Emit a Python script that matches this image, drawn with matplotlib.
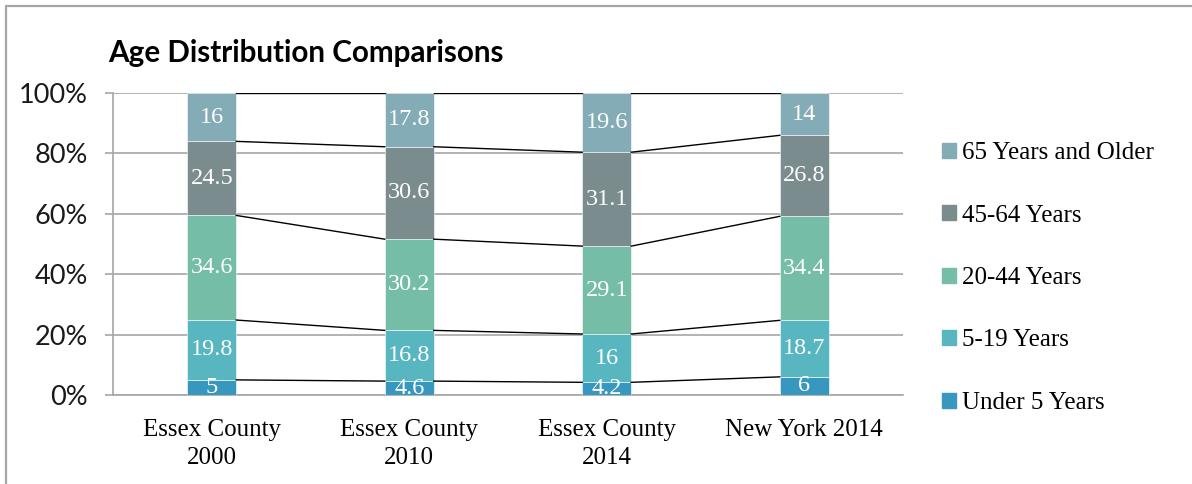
import matplotlib
matplotlib.use("Agg")
import matplotlib.pyplot as plt
from matplotlib.patches import Rectangle, Patch
import numpy as np

categories = ["Essex County\n2000", "Essex County\n2010", "Essex County\n2014", "New York 2014"]
series_names = ["Under 5 Years", "5-19 Years", "20-44 Years", "45-64 Years", "65 Years and Older"]
under5 = [5, 4.6, 4.2, 6]
age5_19 = [19.8, 16.8, 16, 18.7]
age20_44 = [34.6, 30.2, 29.1, 34.4]
age45_64 = [24.5, 30.6, 31.1, 26.8]
age65 = [16, 17.8, 19.6, 14]
yticks = [0, 20, 40, 60, 80, 100]
ytick_labels = ["0%", "20%", "40%", "60%", "80%", "100%"]

colors = ["#3797BE", "#58B6C0", "#75BDA7", "#7A8C8E", "#84ACB6"]

W, H = 1192, 484
fig = plt.figure(figsize=(W / 100, H / 100), dpi=100)
ax = fig.add_axes([113 / W, (H - 395) / H, (903 - 113) / W, (395 - 93) / H])

data = np.array([under5, age5_19, age20_44, age45_64, age65], dtype=float)
totals = data.sum(axis=0)
pct = data / totals * 100
x = np.arange(len(categories))
bw = 0.248

bottom = np.zeros(len(categories))
tops = []
for i, name in enumerate(series_names):
    ax.bar(x, pct[i], bw, bottom=bottom, color=colors[i], label=name, zorder=3,
           edgecolor="white", linewidth=0.4)
    for j in range(len(categories)):
        v = data[i][j]
        txt = ("%g" % v)
        ax.text(x[j], bottom[j] + pct[i][j] / 2, txt, ha="center", va="center",
                color="white", fontsize=17.5, family="Liberation Serif", zorder=5,
                clip_on=True)
    bottom = bottom + pct[i]
    tops.append(bottom.copy())

# series lines between bars
for level in tops:
    for j in range(len(categories) - 1):
        ax.plot([x[j] + bw / 2, x[j + 1] - bw / 2], [level[j], level[j + 1]],
                color="black", lw=1.0, zorder=4)

ax.set_xlim(-0.5, len(categories) - 0.5)
ax.set_ylim(0, 100)
ax.set_yticks(yticks)
ax.set_yticklabels(ytick_labels, family="Lato", fontweight="normal", fontsize=19.5, color="#1a1a1a")
ax.set_xticks(x)
ax.set_xticklabels(categories, family="Liberation Serif", fontsize=18, linespacing=1.38)
ax.tick_params(axis="x", length=0, pad=17)
ax.tick_params(axis="y", length=6, color="#A6A6A6", width=1.2, pad=12)
ax.yaxis.grid(True, color="#A6A6A6", lw=1.2, zorder=0)
for s in ["top", "right"]:
    ax.spines[s].set_visible(False)
ax.spines["left"].set_color("#A6A6A6")
ax.spines["bottom"].set_color("#A6A6A6")
ax.spines["left"].set_linewidth(1.2)
ax.spines["bottom"].set_linewidth(1.2)
ax.set_axisbelow(True)

handles = [Patch(color=colors[i], label=series_names[i]) for i in range(len(series_names))][::-1]
leg = ax.legend(handles=handles, loc="upper left", bbox_to_anchor=(942 / W, 1 - 142 / H),
                bbox_transform=fig.transFigure, frameon=False,
                prop={"family": "Liberation Serif", "size": 18},
                handlelength=0.56, handleheight=0.56, handletextpad=0.25,
                labelspacing=1.62, borderpad=0, borderaxespad=0)

fig.text(108 / W, 1 - 62 / H, "Age Distribution Comparisons", family="Lato",
         fontweight="bold", fontsize=21.3, va="baseline", ha="left", color="black")

border = Rectangle((6 / W, -0.2), 1.2, 1 - 6 / H + 0.2, transform=fig.transFigure,
                   fill=False, edgecolor="#A6A6A6", lw=1.6, clip_on=False)
fig.patches.append(border)

fig.savefig("out.png", dpi=100)
